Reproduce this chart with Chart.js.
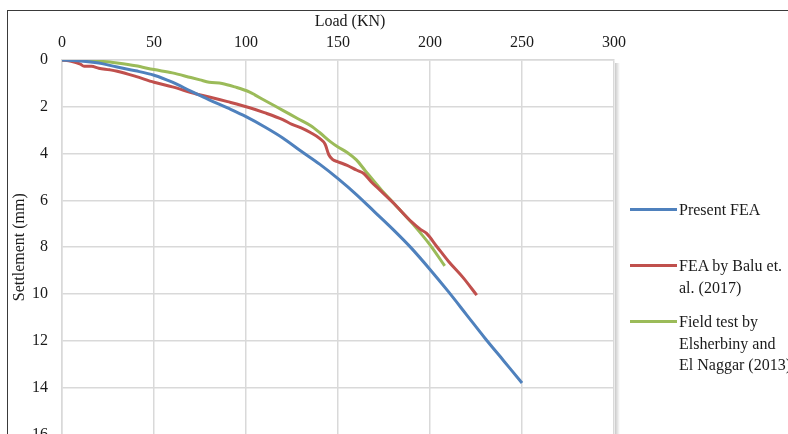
<!DOCTYPE html>
<html>
<head>
<meta charset="utf-8">
<script src="https://cdn.jsdelivr.net/npm/chart.js@4/dist/chart.umd.min.js"></script>
<style>
  html, body { margin: 0; padding: 0; background: #fff; overflow: hidden; }
  #wrap { position: relative; width: 788px; height: 434px; overflow: hidden; }
  #box { position: absolute; width: 788px; height: 458px; left: 0; top: 0; }
  #frame { position: absolute; left: 7px; top: 10px; right: -4px; bottom: -4px;
           border-top: 1.5px solid #3a3a3a; border-left: 1.5px solid #3a3a3a; pointer-events: none; }
  #legend { position: absolute; left: 630px; top: 176px; font: 16px "Liberation Serif", serif; color: #1a1a1a; }
  .item { height: 67px; display: flex; flex-direction: column; justify-content: center; }
  .row { display: flex; align-items: flex-start; }
  .sw { width: 47px; height: 3px; margin-top: 9px; margin-right: 2px; flex: none; }
  .txt { width: 110px; line-height: 21.5px; }
</style>
</head>
<body>
<div id="wrap">
  <div id="box"><canvas id="c"></canvas></div>
  <div id="frame"></div>
  <div id="legend"></div>
</div>
<script>
// Present FEA
const loadPresent = [0, 10, 20, 26, 30, 40, 50, 60, 70, 80, 90, 100, 110, 120, 130, 140, 150, 160, 170, 180, 190, 200, 210, 220, 230, 240, 250];
const settlePresent = [0, 0.04, 0.13, 0.23, 0.3, 0.46, 0.65, 0.95, 1.33, 1.7, 2.05, 2.42, 2.85, 3.33, 3.9, 4.45, 5.07, 5.75, 6.5, 7.25, 8.05, 8.95, 9.9, 10.9, 11.9, 12.85, 13.8];

// FEA by Balu et al. (2017)
const loadBalu = [0, 5, 10, 12, 16, 20, 26, 30, 40, 50, 60, 73, 80, 90, 102, 110, 120, 125, 130, 135, 140, 143, 145, 147, 150, 155, 160, 164, 168, 172, 180, 190, 195, 198, 204, 210, 218, 225.4];
const settleBalu = [0, 0.05, 0.18, 0.27, 0.27, 0.35, 0.42, 0.48, 0.7, 0.95, 1.15, 1.45, 1.58, 1.78, 2.04, 2.25, 2.55, 2.75, 2.9, 3.1, 3.35, 3.6, 4.05, 4.25, 4.35, 4.5, 4.7, 4.85, 5.2, 5.5, 6.1, 6.92, 7.25, 7.4, 8.0, 8.6, 9.3, 10.05];

// Field test by Elsherbiny and El Naggar (2013)
const loadField = [0, 10, 20, 26, 30, 40, 50, 60, 70, 75, 80, 87, 94, 102, 105, 113, 120, 128, 135, 140, 146, 150, 155, 160, 165, 173, 180, 190, 200, 208];
const settleField = [0, 0.01, 0.05, 0.09, 0.13, 0.25, 0.41, 0.55, 0.75, 0.85, 0.95, 1.0, 1.15, 1.37, 1.5, 1.85, 2.15, 2.5, 2.8, 3.1, 3.5, 3.72, 3.95, 4.27, 4.75, 5.5, 6.1, 6.95, 7.9, 8.8];

const seriesLabels = ["Present FEA", "FEA by Balu et. al. (2017)", "Field test by Elsherbiny and El\u00a0Naggar\u00a0(2013)"];
const seriesColors = ["#4F81BD", "#C0504D", "#9BBB59"];
const xTitle = "Load (KN)";
const yTitle = "Settlement (mm)";

function pts(xs, ys) {
  return xs.map((x, i) => ({ x: x, y: ys[i] }));
}

const fontFamily = "'Liberation Serif', 'Times New Roman', serif";
const font = { family: fontFamily, size: 16 };
const txt = "#1a1a1a";
const gridCol = "#d9d9d9";

// soft shadow on the right edge of the plot area + x axis title (sits a bit right of centre)
const extras = {
  id: "extras",
  beforeDatasetsDraw(chart) {
    const a = chart.chartArea, ctx = chart.ctx;
    const g = ctx.createLinearGradient(a.right, 0, a.right + 6, 0);
    g.addColorStop(0, "rgba(0,0,0,0.25)");
    g.addColorStop(1, "rgba(0,0,0,0)");
    ctx.save();
    ctx.fillStyle = g;
    ctx.fillRect(a.right + 1, a.top + 3, 6, a.bottom - a.top);
    ctx.restore();
  },
  afterDraw(chart) {
    const a = chart.chartArea, ctx = chart.ctx;
    ctx.save();
    ctx.font = "16px " + fontFamily;
    ctx.fillStyle = txt;
    ctx.textAlign = "center";
    ctx.textBaseline = "middle";
    ctx.fillText(xTitle, (a.left + a.right) / 2 + 12, 22);
    ctx.restore();
  }
};

const chart = new Chart(document.getElementById("c"), {
  type: "line",
  data: {
    datasets: [
      { label: seriesLabels[0], data: pts(loadPresent, settlePresent) },
      { label: seriesLabels[1], data: pts(loadBalu, settleBalu) },
      { label: seriesLabels[2], data: pts(loadField, settleField) },
    ].map((d, i) => Object.assign(d, {
      borderColor: seriesColors[i], backgroundColor: seriesColors[i],
      borderWidth: 3, pointRadius: 0, tension: 0.3, cubicInterpolationMode: "monotone",
      fill: false
    }))
  },
  options: {
    responsive: true,
    maintainAspectRatio: false,
    animation: false,
    layout: { padding: { top: 12, left: 10, right: 174, bottom: 3 } },
    plugins: { legend: { display: false }, tooltip: { enabled: false } },
    scales: {
      x: {
        type: "linear", position: "top", min: 0, max: 300,
        ticks: { stepSize: 50, font: font, color: txt, padding: 8 },
        grid: { color: gridCol, lineWidth: 1.5, drawTicks: false },
        border: { color: gridCol, width: 1.5 },
        afterFit(scale) { scale.height = 48; }
      },
      y: {
        type: "linear", reverse: true, min: 0, max: 16,
        ticks: { stepSize: 2, font: font, color: txt, padding: 14 },
        grid: { color: gridCol, lineWidth: 1.5, drawTicks: false },
        border: { color: gridCol, width: 1.5 },
        title: { display: true, text: yTitle, font: font, color: txt, padding: { top: 0, bottom: 4 } },
        afterFit(scale) { scale.width = 52; }
      }
    }
  },
  plugins: [extras]
});

// legend with wrapped labels, like the original
const leg = document.getElementById("legend");
chart.data.datasets.forEach(ds => {
  const item = document.createElement("div");
  item.className = "item";
  item.innerHTML = '<div class="row"><div class="sw" style="background:' + ds.borderColor +
    '"></div><div class="txt">' + ds.label + '</div></div>';
  leg.appendChild(item);
});
</script>
</body>
</html>
